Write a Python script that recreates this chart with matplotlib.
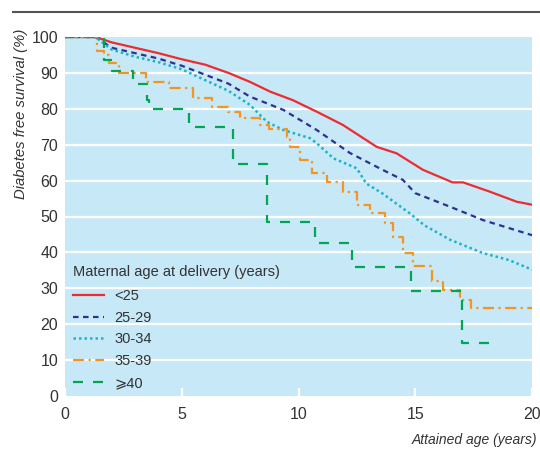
import matplotlib
matplotlib.use("Agg")
import matplotlib.pyplot as plt
from matplotlib.lines import Line2D

plt.rcParams['font.family'] = ['Liberation Sans', 'DejaVu Sans']

# ---- data ----
red_x = [0, 1.3, 2, 3, 4, 5, 6, 7, 7.92, 8.78, 9.76, 10.78, 11.9, 13.35, 14.2, 15.33, 16.6, 17.05, 18.2, 19.35, 20]
red_y = [100, 100, 98.5, 97, 95.5, 93.8, 92.3, 90, 87.5, 84.8, 82.4, 79.2, 75.5, 69.4, 67.6, 63, 59.5, 59.5, 56.9, 54.1, 53.3]

blue_x = [0, 1.3, 2, 3, 4, 5, 6, 7, 7.92, 9.35, 10.78, 12.2, 13.6, 14.47, 15.0, 16.5, 17.9, 18.8, 20]
blue_y = [100, 100, 97, 95.5, 94, 92, 89.5, 87, 83.4, 79.7, 74.1, 67.7, 63, 60.2, 56.5, 52.7, 49, 47.2, 44.8]

cyan_x = [0, 1.3, 2, 3, 4, 5, 6, 7, 7.92, 8.64, 9.35, 10.5, 10.78, 11.5, 12.5, 12.9, 13.6, 14.76, 15.4, 16.5, 17.9, 19.0, 20]
cyan_y = [100, 100, 96.5, 94.5, 93, 91, 88, 85, 81.1, 76.4, 74.1, 71.8, 70.4, 66.2, 63.4, 59.2, 56.4, 50.9, 47.5, 43.5, 39.8, 37.9, 35.2]

orange_x = [0, 1.35, 1.65, 1.9, 2.3, 3.45, 4.45, 5.5, 6.3, 7.0, 7.5, 8.35, 8.75, 9.5, 9.64, 10.07, 10.57, 11.2, 11.92, 12.5, 13.07, 13.7, 14.06, 14.49, 14.92, 15.72, 16.2, 16.9, 17.4, 20]
orange_y = [100, 96, 95, 92.7, 90, 87.6, 85.7, 83, 80.5, 79, 77.5, 75.5, 74.3, 72.2, 69.4, 65.7, 62.0, 59.7, 56.9, 53.2, 50.9, 48.1, 44.4, 39.7, 36.1, 31.9, 29.5, 26.7, 24.5, 24.5]

green_x = [0, 1.67, 2.0, 2.9, 3.5, 3.6, 5.3, 7.2, 8.65, 10.7, 12.3, 14.8, 17.0, 18.3]
green_y = [100, 93.6, 90.5, 87, 82.5, 80, 75, 64.5, 48.5, 42.5, 36, 29.2, 14.8, 14.8]

labels = ['<25', '25-29', '30-34', '35-39', '\u2a7e40']
legend_title = 'Maternal age at delivery (years)'
x_ticks = [0, 5, 10, 15, 20]
y_ticks = [0, 10, 20, 30, 40, 50, 60, 70, 80, 90, 100]

# ---- figure ----
W, H = 540, 451
fig = plt.figure(figsize=(W / 100, H / 100), dpi=100)
fig.patch.set_facecolor('white')
ax = fig.add_axes([65 / W, 1 - 396 / H, (532 - 65) / W, (396 - 37) / H])
ax.set_facecolor('#c6e8f7')
for s in ax.spines.values():
    s.set_visible(False)

for yv in y_ticks[1:-1]:
    ax.axhline(yv, color='white', lw=1.6, zorder=1)

lw = 1.6
ax.plot(red_x, red_y, color='#ee2b2e', lw=lw, ls='-', zorder=5)
ax.plot(blue_x, blue_y, color='#2e3192', lw=lw, ls=(0, (2.5, 2)), zorder=5)
ax.plot(cyan_x, cyan_y, color='#1cb3c8', lw=lw + 0.2, ls=(0, (1, 1.2)), zorder=5)
ax.step(orange_x, orange_y, where='post', color='#f7941d', lw=lw, ls=(0, (5, 2, 1, 2)), zorder=5)
ax.step(green_x, green_y, where='post', color='#00a651', lw=lw, ls=(0, (4.5, 4.5)), zorder=5)

ax.set_xlim(0, 20)
ax.set_ylim(0, 100)
ax.set_xticks(x_ticks)
ax.set_yticks(y_ticks)
ax.tick_params(axis='x', direction='in', length=6, width=1.6, color='white', labelsize=11.5,
               labelcolor='#333333', pad=8)
ax.tick_params(axis='y', length=0, labelsize=11.5, labelcolor='#333333', pad=5)

fig.text(21 / W, 1 - 114 / H, 'Diabetes free survival (%)', rotation=90, style='italic',
         fontsize=10.7, color='#333333', ha='center', va='center')
fig.text(537 / W, 1 - 440 / H, 'Attained age (years)', style='italic', fontsize=10,
         color='#333333', ha='right', va='center')

fig.add_artist(Line2D([13 / W, 1.0], [1 - 12 / H, 1 - 12 / H], color='#555555', lw=1.5))

fig.text(73 / W, 1 - 272 / H, legend_title, fontsize=10.5, color='#333333',
         ha='left', va='center', zorder=10)

handles = [
    Line2D([], [], color='#ee2b2e', lw=lw, ls='-'),
    Line2D([], [], color='#2e3192', lw=lw, ls=(0, (2.5, 2))),
    Line2D([], [], color='#1cb3c8', lw=lw + 0.2, ls=(0, (1, 1.2))),
    Line2D([], [], color='#f7941d', lw=lw, ls=(0, (5, 2, 1, 2))),
    Line2D([], [], color='#00a651', lw=lw, ls=(0, (4.5, 4.5))),
]
leg = ax.legend(handles, labels, loc='upper left',
                bbox_to_anchor=(73 / W, 1 - 289 / H), bbox_transform=fig.transFigure,
                frameon=False, fontsize=10.5,
                handlelength=2.1, handletextpad=0.75, labelspacing=0.53, borderaxespad=0,
                borderpad=0)
for t in leg.get_texts():
    t.set_color('#333333')

fig.savefig('out.png', dpi=100)
